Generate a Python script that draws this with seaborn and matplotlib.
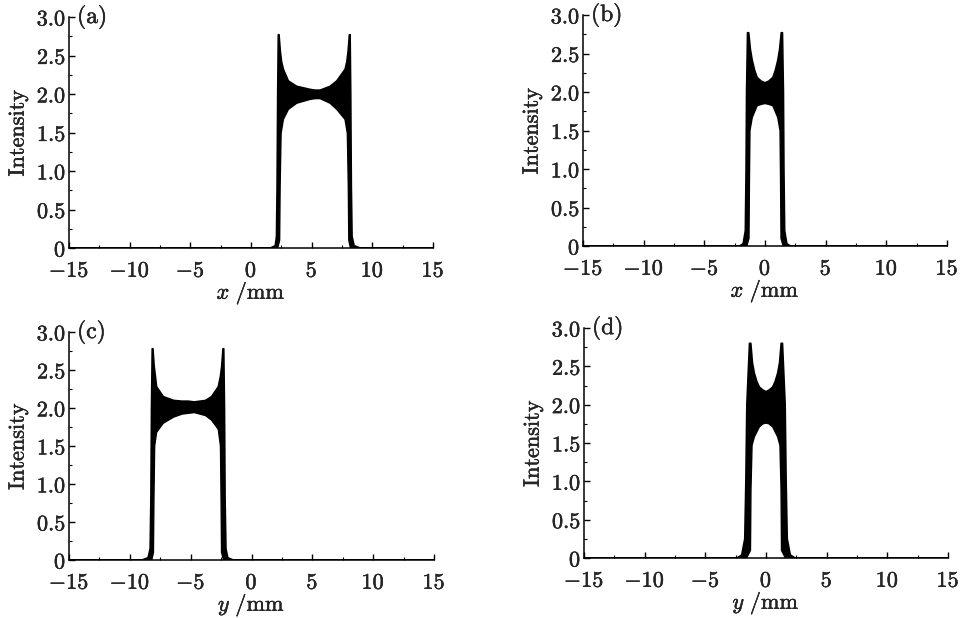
import numpy as np
import matplotlib
matplotlib.use("Agg")
import matplotlib.pyplot as plt
import matplotlib.patheffects as pe
import seaborn as sns
from matplotlib.ticker import MultipleLocator, FixedLocator, FixedFormatter

sns.set_style("ticks")
plt.rcParams["font.family"] = ["DejaVu Serif"]
plt.rcParams["mathtext.fontset"] = "cm"

# ---------------- data (envelopes) ----------------
# panel (a): upper and lower envelope of the fast oscillating intensity
xa_up = [-15, 1.6, 2.0, 2.1, 2.15, 2.2, 2.25, 2.31, 2.42, 2.52, 2.67, 3.08, 3.77, 4.87, 5.3, 5.7, 6.52, 7.07, 7.75, 7.9, 8.0, 8.11, 8.17, 8.22, 8.27, 8.33, 8.5, 9.0, 15]
ya_up = [0, 0, 0.03, 0.15, 0.8, 2.0, 2.77, 2.77, 2.55, 2.42, 2.32, 2.17, 2.10, 2.06, 2.05, 2.05, 2.10, 2.17, 2.32, 2.42, 2.55, 2.77, 2.77, 2.0, 0.8, 0.15, 0.03, 0, 0]
xa_lo = [-15, 2.2, 2.36, 2.4, 2.48, 2.67, 3.08, 3.77, 4.87, 5.3, 5.7, 6.52, 7.07, 7.75, 7.94, 8.02, 8.06, 8.2, 15]
ya_lo = [0, 0, 0.1, 0.8, 1.49, 1.67, 1.80, 1.88, 1.93, 1.94, 1.94, 1.88, 1.80, 1.67, 1.49, 0.8, 0.1, 0, 0]

# panel (b)
xb_up = [-15, -2.1, -1.8, -1.62, -1.56, -1.52, -1.44, -1.34, -1.2, -1.05, -0.85, -0.65, -0.3, 0, 0.3, 0.65, 0.85, 1.05, 1.2, 1.34, 1.44, 1.52, 1.56, 1.62, 1.8, 2.1, 15]
yb_up = [0, 0, 0.03, 0.2, 1.0, 2.0, 2.77, 2.77, 2.55, 2.41, 2.28, 2.19, 2.14, 2.12, 2.14, 2.19, 2.28, 2.41, 2.55, 2.77, 2.77, 2.0, 1.0, 0.2, 0.03, 0, 0]
xb_lo = [-15, -1.5, -1.32, -1.28, -1.24, -1.05, -0.65, -0.3, 0, 0.3, 0.65, 1.05, 1.24, 1.28, 1.32, 1.5, 15]
yb_lo = [0, 0, 0.1, 0.9, 1.5, 1.67, 1.82, 1.84, 1.85, 1.84, 1.82, 1.67, 1.5, 0.9, 0.1, 0, 0]

# panel (c)
xc_up = [-15, -9.0, -8.5, -8.33, -8.27, -8.22, -8.16, -8.1, -8.0, -7.9, -7.8, -7.25, -6.4, -5.7, -5.2, -4.7, -3.77, -3.28, -2.73, -2.55, -2.45, -2.34, -2.28, -2.22, -2.17, -2.1, -1.95, -1.5, 15]
yc_up = [0, 0, 0.03, 0.15, 0.8, 2.0, 2.78, 2.78, 2.55, 2.42, 2.28, 2.15, 2.10, 2.09, 2.09, 2.08, 2.10, 2.15, 2.28, 2.42, 2.55, 2.78, 2.78, 2.0, 0.8, 0.15, 0.03, 0, 0]
xc_lo = [-15, -8.2, -8.06, -8.02, -7.96, -7.8, -7.25, -6.4, -5.7, -5.2, -4.7, -3.77, -3.28, -2.73, -2.55, -2.5, -2.46, -2.3, 15]
yc_lo = [0, 0, 0.1, 0.8, 1.5, 1.68, 1.80, 1.88, 1.92, 1.93, 1.94, 1.90, 1.84, 1.72, 1.5, 0.8, 0.1, 0, 0]

# panel (d)
xd_up = [-15, -2.4, -2.0, -1.75, -1.66, -1.58, -1.36, -1.25, -1.12, -0.96, -0.75, -0.55, -0.25, 0, 0.25, 0.55, 0.75, 0.96, 1.12, 1.25, 1.36, 1.58, 1.66, 1.75, 2.0, 2.4, 15]
yd_up = [0, 0, 0.04, 0.25, 1.0, 2.0, 2.80, 2.80, 2.55, 2.41, 2.30, 2.23, 2.19, 2.17, 2.19, 2.23, 2.30, 2.41, 2.55, 2.80, 2.80, 2.0, 1.0, 0.25, 0.04, 0, 0]
xd_lo = [-15, -1.6, -1.28, -1.24, -1.15, -0.96, -0.55, -0.25, 0, 0.25, 0.55, 0.96, 1.15, 1.24, 1.28, 1.6, 15]
yd_lo = [0, 0, 0.1, 0.9, 1.47, 1.58, 1.71, 1.75, 1.76, 1.75, 1.71, 1.58, 1.47, 0.9, 0.1, 0, 0]

panel_labels = [r"$(\mathrm{a})$", r"$(\mathrm{b})$", r"$(\mathrm{c})$", r"$(\mathrm{d})$"]
x_labels = [r"$x\ /\mathrm{mm}$", r"$x\ /\mathrm{mm}$", r"$y\ /\mathrm{mm}$", r"$y\ /\mathrm{mm}$"]
y_label = r"$\mathrm{Intensity}$"
x_ticks = [-15, -10, -5, 0, 5, 10, 15]
x_ticklabels = [r"$-15$", r"$-10$", r"$-5$", r"$0$", r"$5$", r"$10$", r"$15$"]
y_ticks = [0, 0.5, 1.0, 1.5, 2.0, 2.5, 3.0]
y_ticklabels = [r"$0$", r"$0.5$", r"$1.0$", r"$1.5$", r"$2.0$", r"$2.5$", r"$3.0$"]

panels = [
    (xa_up, ya_up, xa_lo, ya_lo),
    (xb_up, yb_up, xb_lo, yb_lo),
    (xc_up, yc_up, xc_lo, yc_lo),
    (xd_up, yd_up, xd_lo, yd_lo),
]

W, H = 967, 618
rects_px = [(69, 433, 248, 17), (583, 947, 246, 15), (69, 434, 560, 332), (584, 948, 558, 328)]

heavy = [pe.withStroke(linewidth=0.3, foreground="black")]

fig = plt.figure(figsize=(W / 100, H / 100), dpi=100)
fs_tick = 16
fs_lab = 16
for i, ((xu, yu, xl, yl), (l, r, b, t)) in enumerate(zip(panels, rects_px)):
    ax = fig.add_axes([l / W, (H - b) / H, (r - l) / W, (b - t) / H])
    poly_x = np.concatenate([np.asarray(xu, float), np.asarray(xl, float)[::-1]])
    poly_y = np.concatenate([np.asarray(yu, float), np.asarray(yl, float)[::-1]])
    ax.fill(poly_x, poly_y, color="black", lw=0)
    sns.lineplot(x=xu, y=yu, ax=ax, color="black", lw=1.2, estimator=None, sort=False)
    sns.lineplot(x=xl, y=yl, ax=ax, color="black", lw=1.0, estimator=None, sort=False)
    ax.set_xlim(-15, 15)
    ax.set_ylim(0, 3.0)
    sns.despine(ax=ax)
    for s in ["left", "bottom"]:
        ax.spines[s].set_linewidth(1.1)
        ax.spines[s].set_color("black")
    ax.xaxis.set_major_locator(FixedLocator(x_ticks))
    ax.xaxis.set_major_formatter(FixedFormatter(x_ticklabels))
    ax.yaxis.set_major_locator(FixedLocator(y_ticks))
    ax.yaxis.set_major_formatter(FixedFormatter(y_ticklabels))
    ax.xaxis.set_minor_locator(MultipleLocator(2.5))
    ax.yaxis.set_minor_locator(MultipleLocator(0.25))
    ax.tick_params(which="major", direction="in", length=4, width=1, labelsize=fs_tick, color="black")
    ax.tick_params(which="minor", direction="in", length=2, width=0.8, color="black")
    ax.tick_params(axis="x", which="major", pad=8.5)
    ax.tick_params(axis="y", which="major", pad=2)
    ax.set_xlabel(x_labels[i], fontsize=fs_lab, labelpad=-1.5)
    ax.set_ylabel(y_label, fontsize=fs_lab, labelpad=5)
    ax.text(0.022, 1.0, panel_labels[i], transform=ax.transAxes, fontsize=fs_lab + 1,
            ha="left", va="center", path_effects=heavy)
    for txt in ax.get_xticklabels() + ax.get_yticklabels() + [ax.xaxis.label, ax.yaxis.label]:
        txt.set_path_effects(heavy)
    ax.patch.set_alpha(0)

fig.savefig("out.png", dpi=100, facecolor="white")
